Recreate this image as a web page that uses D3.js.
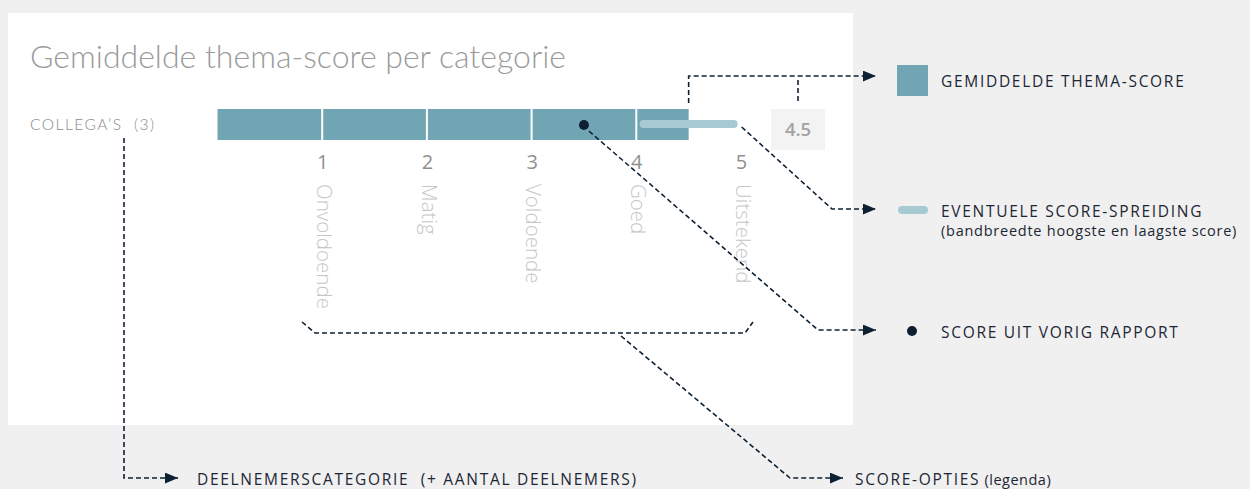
<!DOCTYPE html>
<html>
<head>
<meta charset="utf-8">
<script src="https://cdn.jsdelivr.net/npm/d3@7/dist/d3.min.js"></script>
<style>
  html, body { margin: 0; padding: 0; background: #f0f0f0; }
  svg { display: block; }
</style>
</head>
<body>
<svg id="chart" width="1250" height="489"></svg>
<script>
// ---- data ----
const categories = ["COLLEGA\u2019S"];
const participantCounts = [3];
const averageScores = [4.5];
const spreadLow = [4.07];
const spreadHigh = [4.93];
const previousScores = [3.5];
const scoreTicks = [1, 2, 3, 4, 5];
const scoreLabels = ["Onvoldoende", "Matig", "Voldoende", "Goed", "Uitstekend"];
const titleText = "Gemiddelde thema-score per categorie";
const legendLabels = ["GEMIDDELDE THEMA-SCORE", "EVENTUELE SCORE-SPREIDING", "(bandbreedte hoogste en laagste score)", "SCORE UIT VORIG RAPPORT"];
const bottomLabels = ["DEELNEMERSCATEGORIE\u00a0\u00a0(+ AANTAL DEELNEMERS)", "SCORE-OPTIES"];

// ---- style ----
const barColor = "#72a5b3";
const spreadColor = "#a7c9d1";
const navy = "#0e2033";
const dash = "5,3";

const svg = d3.select("#chart");

// white panel
svg.append("rect").attr("x", 8).attr("y", 13).attr("width", 845).attr("height", 412).attr("fill", "#ffffff");

// marker
svg.append("defs").append("marker")
  .attr("id", "arrow").attr("viewBox", "0 0 12 10")
  .attr("refX", 12).attr("refY", 5)
  .attr("markerWidth", 13).attr("markerHeight", 11)
  .attr("markerUnits", "userSpaceOnUse")
  .attr("orient", "auto")
  .append("path").attr("d", "M0,0 L12,5 L0,10 Z").attr("fill", navy);

// title
svg.append("text").attr("x", 30).attr("y", 68)
  .attr("font-family", "Lato").attr("font-weight", 300).attr("font-size", 32)
  .attr("fill", "#9b9b9b").text(titleText);

// scales
const x = d3.scaleLinear().domain([0, 5]).range([217.5, 741]);
const y = d3.scaleBand().domain(categories).range([109, 140]).padding(0);

// category labels
svg.selectAll(".cat").data(categories).join("text")
  .attr("class", "cat")
  .attr("x", 30).attr("y", d => y(d) + y.bandwidth() / 2).attr("dy", "0.35em")
  .attr("font-family", "Lato").attr("font-weight", 300).attr("font-size", 15.5).attr("letter-spacing", "1.5px")
  .attr("fill", "#8a8a8a")
  .text((d, i) => d + "\u00a0\u00a0(" + participantCounts[i] + ")");

// bars
svg.selectAll(".bar").data(categories).join("rect")
  .attr("class", "bar")
  .attr("x", x(0)).attr("y", d => y(d))
  .attr("width", (d, i) => x(averageScores[i]) - x(0))
  .attr("height", y.bandwidth())
  .attr("fill", barColor);

// white dividers at score ticks inside bar
categories.forEach((c, i) => {
  svg.selectAll(".div" + i).data(scoreTicks.filter(t => t < averageScores[i])).join("line")
    .attr("x1", d => x(d)).attr("x2", d => x(d))
    .attr("y1", y(c)).attr("y2", y(c) + y.bandwidth())
    .attr("stroke", "#ffffff").attr("stroke-width", 2);
});

// spread line
svg.selectAll(".spread").data(categories).join("line")
  .attr("x1", (d, i) => x(spreadLow[i])).attr("x2", (d, i) => x(spreadHigh[i]))
  .attr("y1", d => y(d) + 15).attr("y2", d => y(d) + 15)
  .attr("stroke", spreadColor).attr("stroke-width", 8).attr("stroke-linecap", "round");

// previous score dot
svg.selectAll(".prev").data(categories).join("circle")
  .attr("cx", (d, i) => x(previousScores[i])).attr("cy", d => y(d) + 16)
  .attr("r", 5).attr("fill", navy);

// value box
categories.forEach((c, i) => {
  svg.append("rect").attr("x", 771).attr("y", y(c)).attr("width", 54).attr("height", 41).attr("fill", "#f3f3f3");
  svg.append("text").attr("x", 798).attr("y", y(c) + 21).attr("dy", "0.35em")
    .attr("text-anchor", "middle").attr("font-family", "Open Sans").attr("font-weight", 600)
    .attr("font-size", 18.5).attr("fill", "#a3a3a3").text(averageScores[i].toFixed(1));
});

// axis
const axis = d3.axisBottom(x).tickValues(scoreTicks).tickSize(0).tickPadding(15).tickFormat(d3.format("d"));
const gAxis = svg.append("g").attr("transform", "translate(0,140)").call(axis);
gAxis.select(".domain").remove();
gAxis.selectAll("text").attr("font-family", "Open Sans").attr("font-size", 20).attr("fill", "#8f8f8f");

// rotated score labels
svg.selectAll(".slabel").data(scoreLabels).join("text")
  .attr("transform", (d, i) => `translate(${x(scoreTicks[i]) + 2},184) rotate(90)`)
  .attr("dy", "0.35em")
  .attr("font-family", "Open Sans").attr("font-weight", 300).attr("font-size", 20.5)
  .attr("fill", "#c6c6c6").text(d => d);

// connectors
const line = d3.line();
function connector(pts, arrow) {
  const p = svg.append("path").attr("d", line(pts)).attr("fill", "none")
    .attr("stroke", navy).attr("stroke-width", 1.6).attr("stroke-dasharray", dash);
  if (arrow) p.attr("marker-end", "url(#arrow)");
}
const barEnd = x(averageScores[0]);
connector([[barEnd, 103], [barEnd, 76], [876, 76]], true);
connector([[798, 80], [798, 102]], false);
connector([[x(spreadHigh[0]) + 8, 127], [832, 209], [876, 209]], true);
connector([[x(previousScores[0]) + 5, 131], [818, 330], [876, 330]], true);
connector([[302, 322], [315, 333], [745, 333], [753, 322]], false);
connector([[621, 336], [790, 478], [843, 478]], true);
connector([[124, 138], [124, 478], [178, 478]], true);

// legend
svg.append("rect").attr("x", 897).attr("y", 65).attr("width", 31).attr("height", 31).attr("fill", barColor);
svg.append("line").attr("x1", 902).attr("x2", 924).attr("y1", 210).attr("y2", 210)
  .attr("stroke", spreadColor).attr("stroke-width", 8).attr("stroke-linecap", "round");
svg.append("circle").attr("cx", 912).attr("cy", 331).attr("r", 5).attr("fill", navy);

const legendStyle = sel => sel.attr("font-family", "Open Sans").attr("font-size", 15.5)
  .attr("letter-spacing", "1.7px").attr("fill", "#1c2634").attr("dy", "0.35em");
legendStyle(svg.append("text").attr("x", 941).attr("y", 82).text(legendLabels[0]));
legendStyle(svg.append("text").attr("x", 941).attr("y", 212).text(legendLabels[1]));
svg.append("text").attr("x", 941).attr("y", 231).attr("dy", "0.35em")
  .attr("font-family", "Open Sans").attr("font-size", 14.5).attr("letter-spacing", "0.75px")
  .attr("fill", "#1c2634").text(legendLabels[2]);
legendStyle(svg.append("text").attr("x", 941).attr("y", 333).text(legendLabels[3]));
legendStyle(svg.append("text").attr("x", 197).attr("y", 480).text(bottomLabels[0]));
const t2 = svg.append("text").attr("x", 855).attr("y", 480);
legendStyle(t2);
t2.append("tspan").text(bottomLabels[1]);
t2.append("tspan").attr("letter-spacing", "0.5px").attr("font-size", 14.5).text(" (legenda)");
</script>
</body>
</html>
